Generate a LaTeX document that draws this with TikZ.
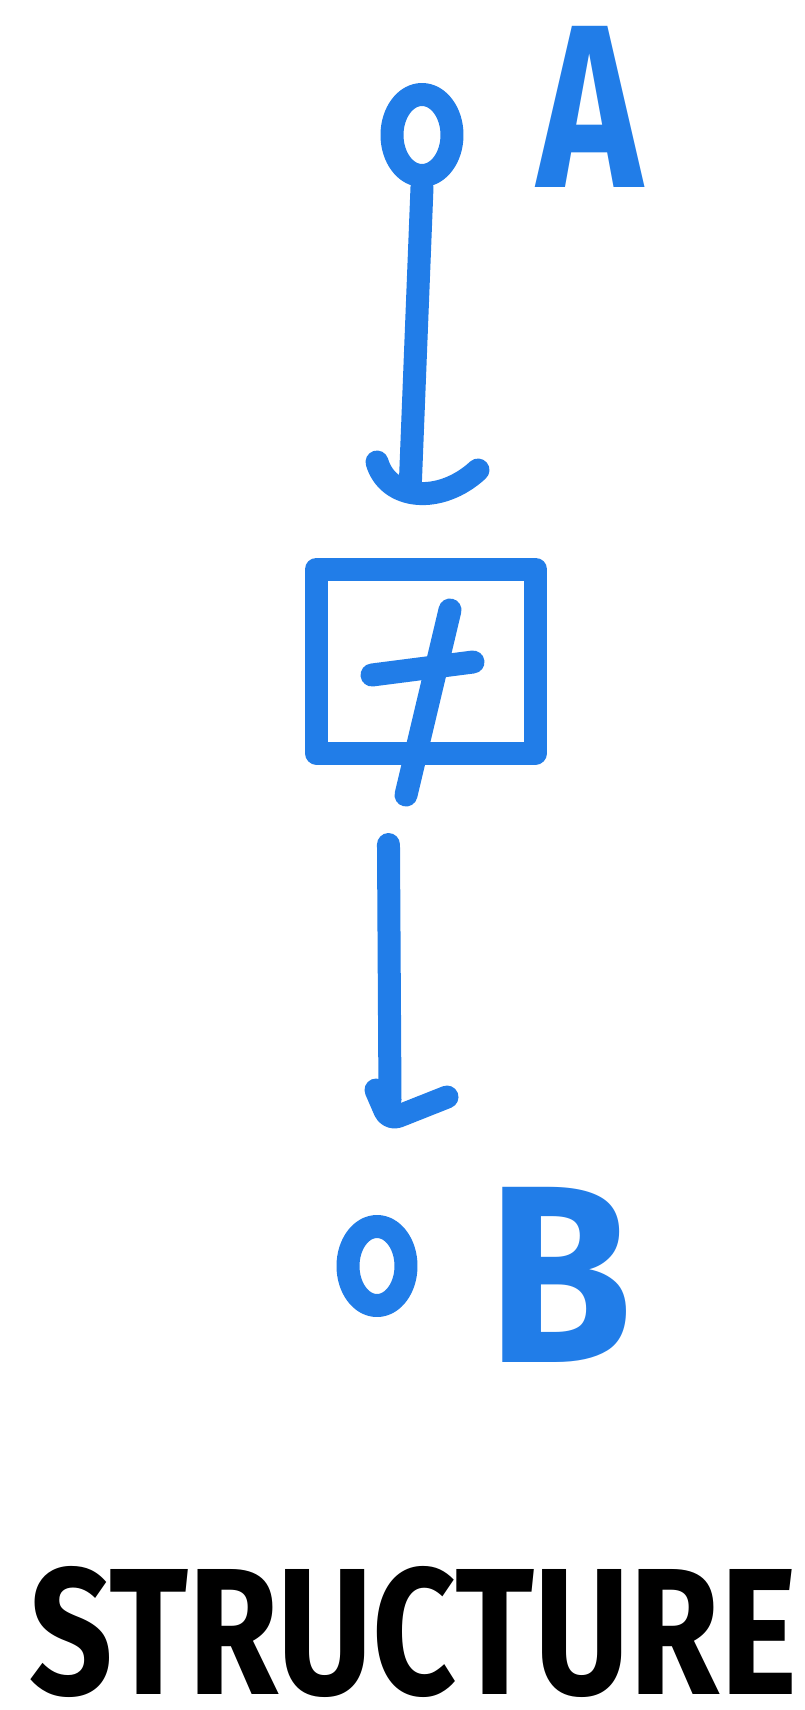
\documentclass[tikz,border=0pt]{standalone}
\usepackage{fontspec}
\setmainfont{Fira Sans}
\usepackage{graphicx}
\usetikzlibrary{shapes.geometric}
\definecolor{crayon}{RGB}{33,125,232}
\begin{document}
\begin{tikzpicture}[x=1pt,y=-1pt,
  crayonline/.style={draw=crayon,line width=23pt,line cap=round,line join=round},
  terminal/.style={ellipse,crayonline,inner sep=0pt},
  lbl/.style={text=crayon,inner sep=0pt,font=\bfseries}]
\fill[white] (0,0) rectangle (804,1710);
\useasboundingbox (0,0) rectangle (804,1710);
% terminal A and its label
\node[terminal,minimum width=60pt,minimum height=81pt] (ta) at (422,135) {};
\node[lbl] (la) at (590,107) {\resizebox{105pt}{161pt}{A}};
% the box with the cross
\node[rectangle,crayonline,minimum width=219pt,minimum height=184pt,inner sep=0pt] (box) at (426,661) {};
\coordinate (cvtop) at (450,610);
\coordinate (cvbot) at (406,795);
\coordinate (chl) at (372,675);
\coordinate (chr) at (473,662);
\draw[crayonline] (cvtop) -- (cvbot);
\draw[crayonline] (chl) -- (chr);
% terminal B and its label
\node[terminal,minimum width=58pt,minimum height=79pt] (tb) at (377,1266) {};
\node[lbl] (lb) at (560,1275) {\resizebox{145pt}{175pt}{B}};
% connector A -> box, with its hand-drawn head
\coordinate (h1) at (410,492);
\coordinate (h1l) at (377,462);
\coordinate (h1r) at (478,470);
\draw[crayonline] (ta.south) -- (h1);
\draw[crayonline] (h1l) .. controls (388,500) and (440,505) .. (h1r);
% connector box -> B, with its hand-drawn head
\coordinate (h2) at (390,1100);
\coordinate (h2l) at (376,1090);
\coordinate (h2b) at (389,1120);
\coordinate (h2r) at (447,1097);
\draw[crayonline,shorten <=80pt] ([xshift=-38pt]box.south) -- (h2);
\draw[crayonline,rounded corners=10pt] (h2l) -- (h2b) -- (h2r);
% title
\node[inner sep=0pt,font=\bfseries] (title) at (413,1632) {\resizebox{767pt}{128pt}{STRUCTURE}};
\end{tikzpicture}
\end{document}
